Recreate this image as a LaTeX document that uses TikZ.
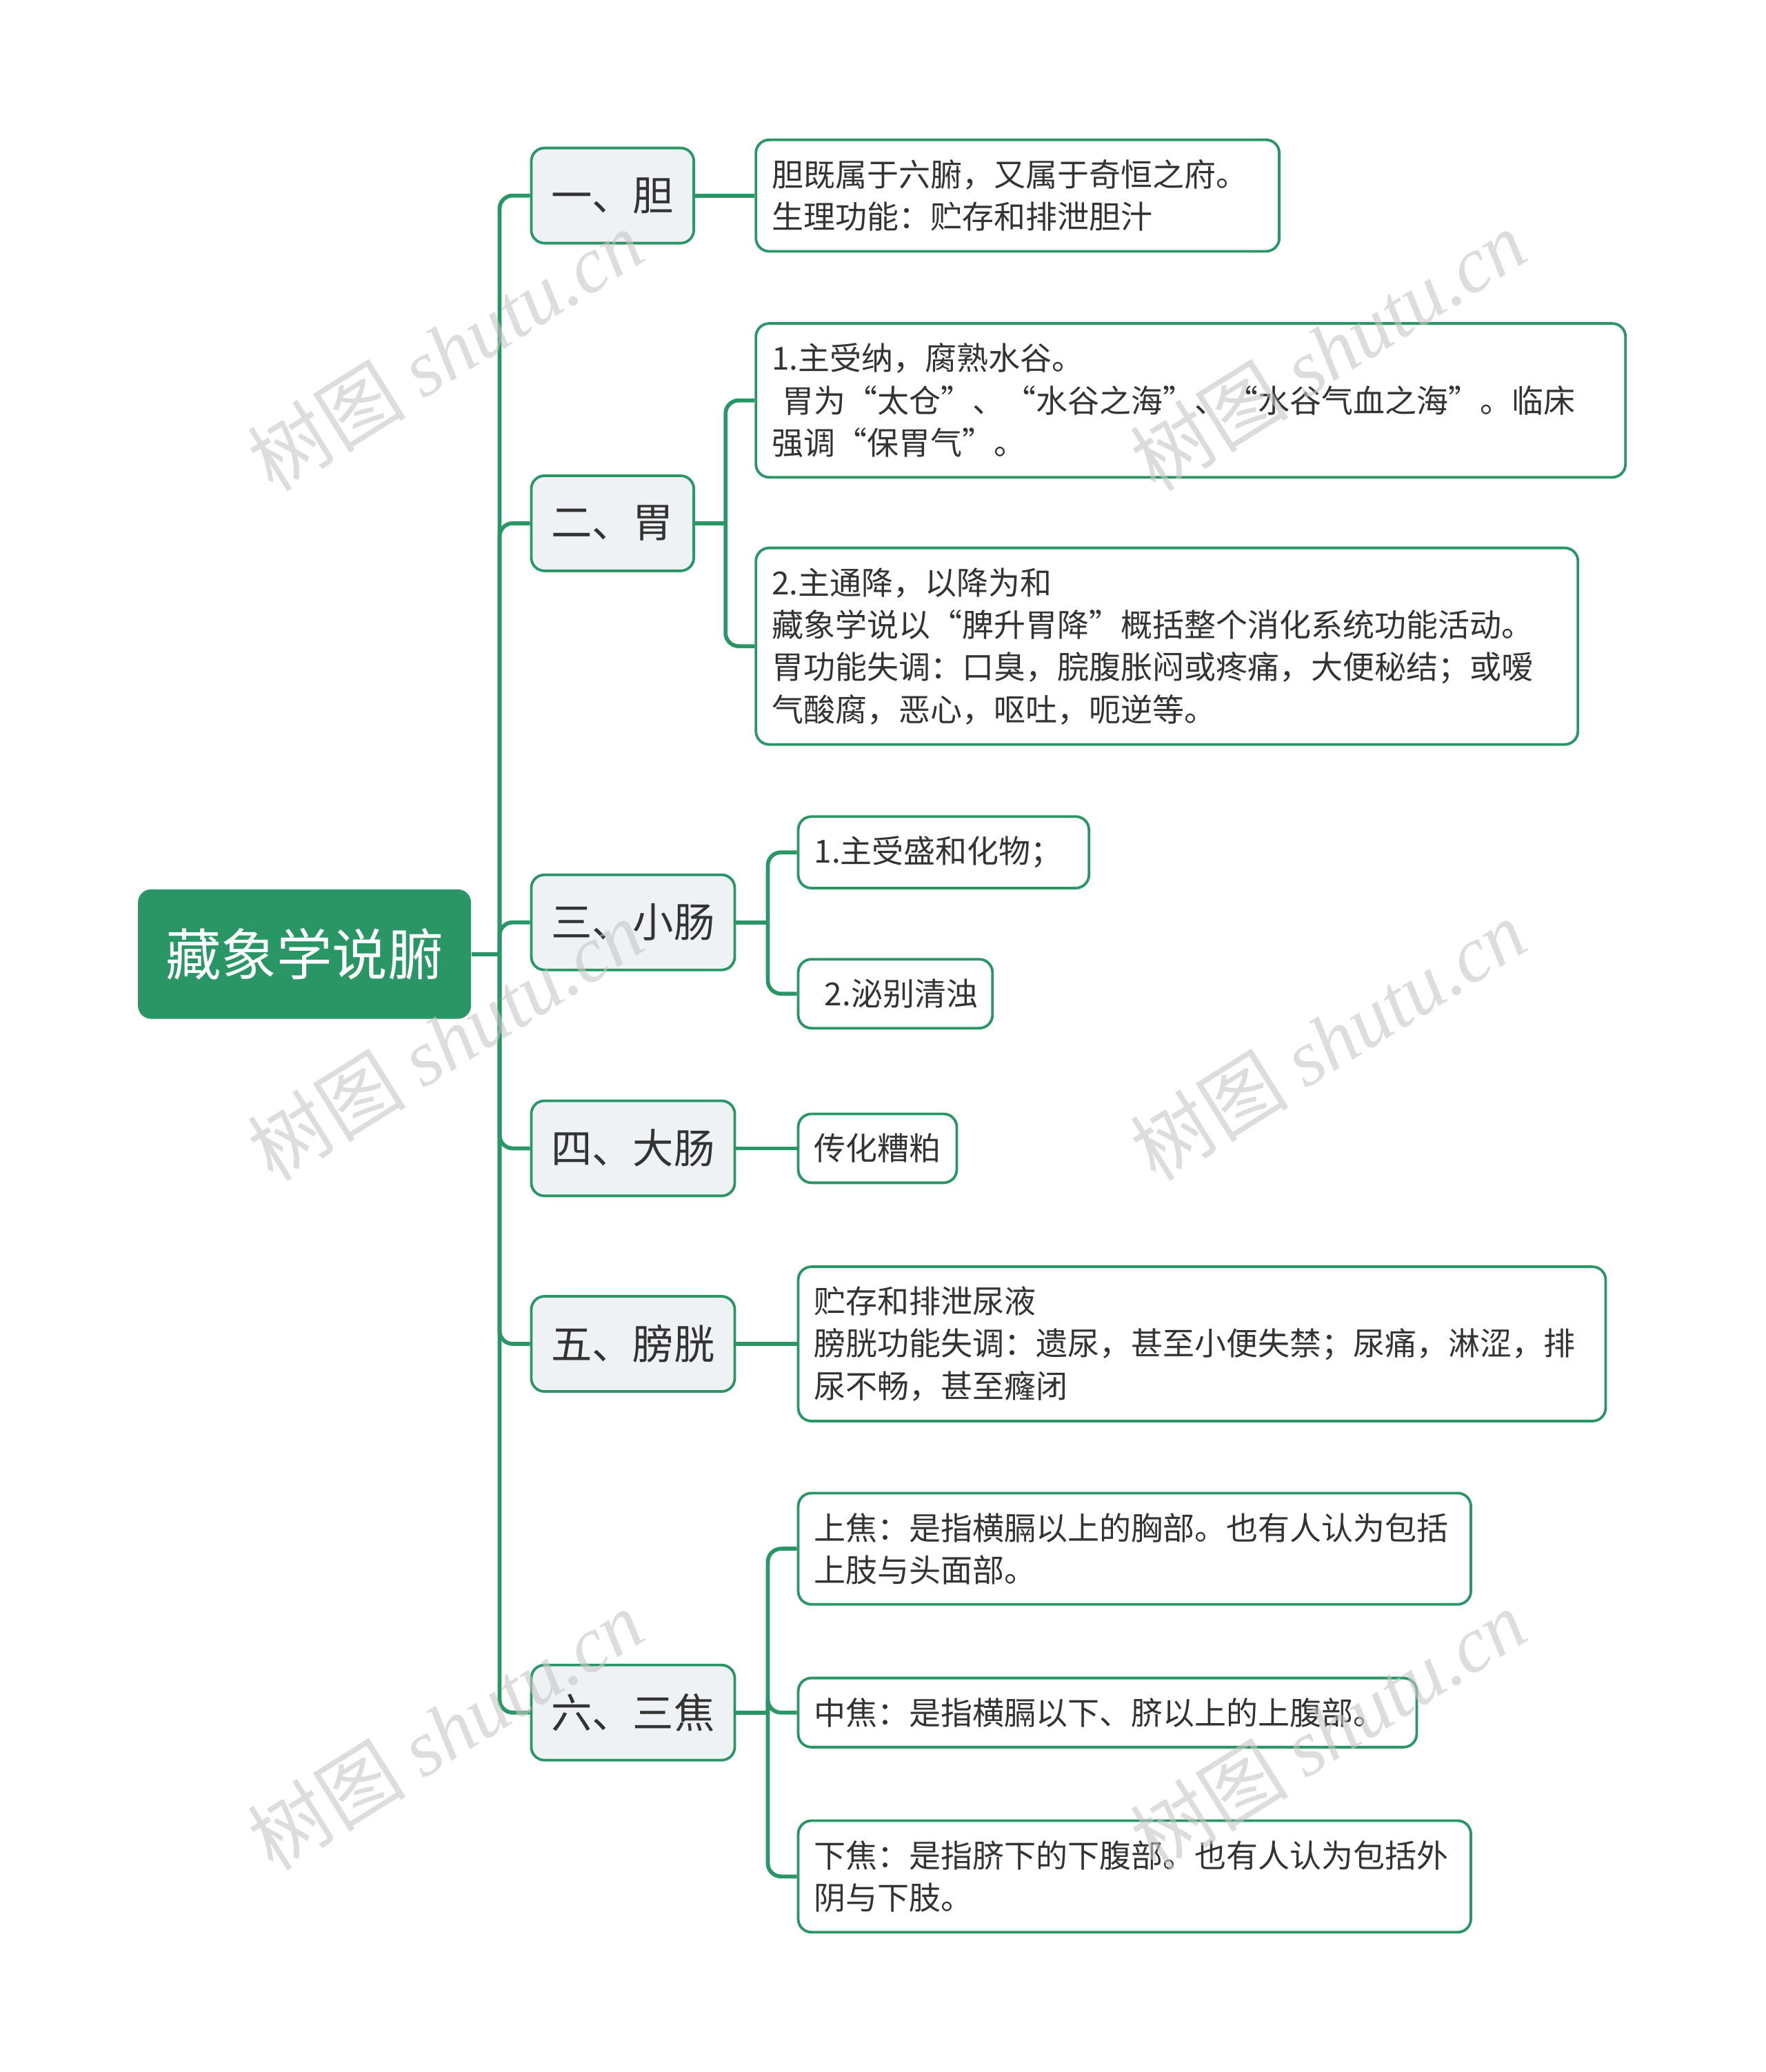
\documentclass[tikz,border=0pt]{standalone}
\usepackage{fontspec}
\setmainfont{Noto Sans CJK SC}
\newfontfamily\wmlatin{Liberation Serif}
\usetikzlibrary{calc, positioning}
\definecolor{zhgreen}{RGB}{42,150,102}
\definecolor{zhfill}{RGB}{238,242,245}
\definecolor{zhtext}{RGB}{51,51,51}

\begin{document}
\begin{tikzpicture}[x=0.5pt, y=-0.5pt, every node/.style={text=zhtext}, align=left]

\tikzstyle{root node}=[fill=zhgreen, rounded corners=5pt, text=white, font=\fontsize{21pt}{25pt}\selectfont, minimum height=49pt, inner xsep=10.5pt, anchor=west]
\tikzstyle{branch node}=[draw=zhgreen, line width=1pt, fill=zhfill, rounded corners=5pt, font=\fontsize{15.5pt}{19pt}\selectfont, minimum height=36pt, inner xsep=7.5pt, anchor=west]
\tikzstyle{leaf node}=[draw=zhgreen, line width=1pt, fill=white, rounded corners=5pt, font=\fontsize{12pt}{16pt}\selectfont, inner xsep=6pt, inner ysep=7.5pt, anchor=west]
\tikzstyle{link}=[draw=zhgreen, line width=1.5pt, rounded corners=5pt]
\tikzstyle{wm node}=[text=gray!45, opacity=0.6, rotate=32, font=\fontsize{30pt}{30pt}\selectfont]

\useasboundingbox (0,0) rectangle (1336,1568);

% 中心主题
\node[root node] (R) at (104,722) {藏象学说腑};

% 一级分支
\node[branch node] (B1) at (401,148) {一、胆};
\node[branch node] (B2) at (401,396) {二、胃};
\node[branch node] (B3) at (401,698) {三、小肠};
\node[branch node] (B4) at (401,869) {四、大肠};
\node[branch node] (B5) at (401,1017) {五、膀胱};
\node[branch node] (B6) at (401,1296) {六、三焦};

% 根->一级
\coordinate (T) at (378,722);
\draw[link] (R.east) -- (T);
\foreach \i in {1,...,6}
    \draw[link] (T) |- (B\i.west);

% 胆
\node[leaf node, text width=186pt] (A1) at (571,148) {胆既属于六腑，又属于奇恒之府。\\生理功能：贮存和排泄胆汁};
\draw[link] (B1.east) -- (A1.west);

% 胃
\node[leaf node, text width=317pt] (C1) at (571,303) {1.主受纳，腐熟水谷。\\\hspace*{4pt}胃为“太仓”、“水谷之海”、“水谷气血之海”。临床\\强调“保胃气”。};
\node[leaf node, text width=299pt] (C2) at (571,489) {2.主通降，以降为和\\藏象学说以“脾升胃降”概括整个消化系统功能活动。\\胃功能失调：口臭，脘腹胀闷或疼痛，大便秘结；或嗳\\气酸腐，恶心，呕吐，呃逆等。};
\coordinate (T2) at (549,396);
\draw[link] (B2.east) -- (T2);
\foreach \j in {1,2}
    \draw[link] (T2) |- (C\j.west);

% 小肠
\node[leaf node, text width=98pt] (D1) at (603,645) {1.主受盛和化物；};
\node[leaf node, text width=61.5pt] (D2) at (603,752) {\hspace*{4pt}2.泌别清浊};
\coordinate (T3) at (581,698);
\draw[link] (B3.east) -- (T3);
\foreach \j in {1,2}
    \draw[link] (T3) |- (D\j.west);

% 大肠
\node[leaf node, text width=48pt] (E1) at (603,869) {传化糟粕};
\draw[link] (B4.east) -- (E1.west);

% 膀胱
\node[leaf node, text width=293.5pt] (F1) at (603,1017) {贮存和排泄尿液\\膀胱功能失调：遗尿，甚至小便失禁；尿痛，淋涩，排\\尿不畅，甚至癃闭};
\draw[link] (B5.east) -- (F1.west);

% 三焦
\node[leaf node, text width=242.5pt] (G1) at (603,1172) {上焦：是指横膈以上的胸部。也有人认为包括\\上肢与头面部。};
\node[leaf node, text width=222pt] (G2) at (603,1296) {中焦：是指横膈以下、脐以上的上腹部。};
\node[leaf node, text width=242.5pt] (G3) at (603,1420) {下焦：是指脐下的下腹部。也有人认为包括外\\阴与下肢。};
\coordinate (T6) at (581,1296);
\draw[link] (B6.east) -- (T6);
\foreach \j in {1,2,3}
    \draw[link] (T6) |- (G\j.west);

% 水印
\node[wm node] (W1) at (337,265) {树图 {\wmlatin\itshape shutu.cn}};
\node[wm node] (W2) at (1005,265) {树图 {\wmlatin\itshape shutu.cn}};
\node[wm node] (W3) at (337,787) {树图 {\wmlatin\itshape shutu.cn}};
\node[wm node] (W4) at (1005,787) {树图 {\wmlatin\itshape shutu.cn}};
\node[wm node] (W5) at (337,1309) {树图 {\wmlatin\itshape shutu.cn}};
\node[wm node] (W6) at (1005,1309) {树图 {\wmlatin\itshape shutu.cn}};

\end{tikzpicture}
\end{document}
